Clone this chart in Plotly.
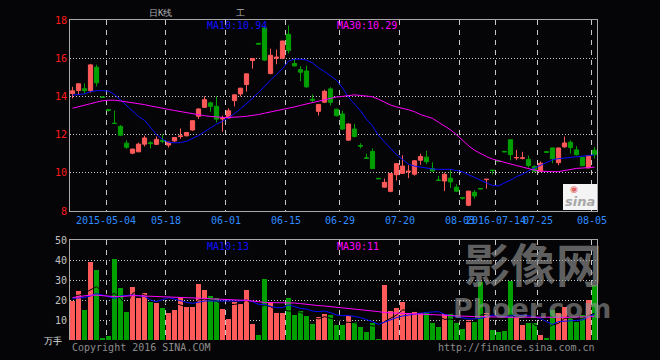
import plotly.graph_objects as go

# ---------------- data ----------------
dates = ["2015-04-23","2015-04-24","2015-04-27","2015-04-28","2015-04-29","2015-04-30",
 "2015-05-04","2015-05-05","2015-05-06","2015-05-07","2015-05-08","2015-05-11","2015-05-12",
 "2015-05-13","2015-05-14","2015-05-15","2015-05-18","2015-05-19","2015-05-20","2015-05-21",
 "2015-05-22","2015-05-25","2015-05-26","2015-05-27","2015-05-28","2015-05-29","2015-06-01",
 "2015-06-02","2015-06-03","2015-06-04","2015-06-05","2015-06-08","2015-06-09","2015-06-10",
 "2015-06-11","2015-06-12","2015-06-15","2015-06-16","2015-06-17","2015-06-18","2015-06-19",
 "2015-06-23","2015-06-24","2015-06-25","2015-06-26","2015-06-29","2015-06-30","2015-07-01",
 "2015-07-02","2015-07-03","2015-07-06","2015-07-07","2015-07-08","2015-07-09","2015-07-10",
 "2015-07-20","2015-07-21","2015-07-22","2015-07-23","2015-07-24","2015-07-27","2015-07-28",
 "2015-07-29","2015-07-30","2015-07-31","2015-08-03","2015-08-04","2015-08-05","2015-08-06",
 "2015-08-07","2015-08-10","2016-07-14","2016-07-15","2016-07-18","2016-07-19","2016-07-20",
 "2016-07-21","2016-07-22","2016-07-25","2016-07-26","2016-07-27","2016-07-28","2016-07-29",
 "2016-08-01","2016-08-02","2016-08-03","2016-08-04","2016-08-05"]

opens = [14.15, 14.31, 14.40, 14.30, 15.53, 13.97, 13.30, 12.60, 12.43, 11.55,
 11.03, 11.10, 11.50, 11.57, 11.49, 11.70, 11.45, 11.67, 11.90, 11.94,
 12.24, 12.96, 13.43, 13.66, 13.48, 12.82, 12.87, 13.78, 14.13, 14.62,
 15.88, 16.78, 17.58, 15.20, 16.00, 16.00, 17.25, 15.72, 15.40, 15.33,
 13.85, 13.22, 13.70, 14.39, 13.33, 13.08, 11.71, 12.29, 11.43, 10.78,
 11.12, 9.71, 9.25, 9.03, 9.90, 9.97, 10.05, 9.93, 10.66, 10.82,
 10.22, 9.62, 9.57, 9.72, 9.25, 8.70, 8.30, 8.98, 9.18, 9.64,
 10.14, 10.62, 11.12, 11.73, 10.78, 10.76, 10.70, 10.33, 10.08, 11.10,
 11.30, 10.53, 11.36, 11.60, 11.20, 10.80, 10.26, 11.18]

closes = [14.29, 14.66, 14.30, 15.65, 14.71, 13.95, 13.28, 12.58, 11.97, 11.34,
 11.24, 11.50, 11.82, 11.53, 11.75, 11.65, 11.60, 11.85, 11.93, 12.11,
 12.73, 13.34, 13.83, 13.48, 12.81, 12.86, 13.25, 14.08, 14.43, 15.18,
 15.98, 16.74, 15.90, 16.15, 16.05, 16.90, 16.40, 15.60, 15.27, 14.50,
 13.80, 13.58, 14.27, 13.69, 12.99, 12.29, 12.55, 11.90, 11.40, 10.76,
 10.22, 9.69, 9.50, 9.96, 10.48, 10.35, 10.08, 10.63, 10.85, 10.58,
 10.10, 9.60, 9.92, 9.52, 9.04, 8.68, 9.04, 8.79, 9.16, 9.66,
 10.12, 10.60, 11.10, 10.95, 10.80, 10.78, 10.38, 10.08, 10.50, 11.08,
 10.74, 11.30, 11.56, 11.32, 10.95, 10.37, 10.90, 10.95]

highs = [14.50, 14.68, 14.68, 15.70, 15.66, 13.98, 13.30, 13.25, 12.50, 11.70,
 11.26, 11.58, 11.94, 11.66, 11.90, 12.00, 11.63, 11.86, 12.32, 12.14,
 12.75, 13.38, 14.00, 13.73, 14.00, 12.99, 13.38, 14.10, 14.45, 15.20,
 16.00, 16.78, 17.60, 16.50, 16.45, 16.92, 17.72, 16.00, 15.58, 15.60,
 14.10, 13.60, 14.35, 14.48, 13.35, 13.25, 12.60, 12.55, 11.55, 11.00,
 11.28, 9.72, 9.70, 9.98, 10.50, 10.92, 10.40, 10.65, 11.00, 11.15,
 10.55, 9.83, 10.00, 10.18, 9.40, 8.70, 9.05, 9.10, 9.19, 9.66,
 10.14, 10.63, 11.13, 11.75, 11.20, 11.10, 10.90, 10.40, 10.60, 11.11,
 11.32, 11.32, 11.90, 11.70, 11.40, 10.82, 10.92, 11.35]

lows = [13.90, 14.10, 14.15, 14.20, 14.52, 13.93, 13.20, 12.58, 11.92, 11.25,
 10.97, 11.08, 11.38, 11.28, 11.45, 11.55, 11.32, 11.60, 11.78, 11.90,
 12.20, 12.82, 13.40, 13.20, 12.64, 12.15, 12.85, 13.48, 14.00, 14.25,
 15.45, 16.72, 15.85, 15.15, 15.68, 15.95, 16.25, 15.55, 14.80, 14.45,
 13.70, 13.00, 13.65, 13.52, 12.95, 12.25, 11.68, 11.85, 11.27, 10.74,
 10.20, 9.68, 9.22, 8.98, 9.60, 9.95, 9.72, 9.85, 10.42, 10.45,
 10.05, 9.58, 9.05, 9.20, 9.00, 8.60, 8.25, 8.65, 9.15, 9.17,
 9.92, 10.58, 11.08, 10.65, 10.66, 10.70, 10.28, 10.02, 10.05, 11.06,
 10.50, 10.40, 11.30, 11.00, 10.90, 10.35, 10.24, 10.75]

ma10 = [14.07, 14.10, 14.13, 14.25, 14.30, 14.30, 14.28, 14.10, 13.80, 13.50,
 13.25, 12.95, 12.75, 12.35, 12.00, 11.75, 11.60, 11.57, 11.58, 11.65,
 11.78, 11.95, 12.15, 12.35, 12.55, 12.70, 12.90, 13.10, 13.35, 13.60,
 13.90, 14.20, 14.55, 14.85, 15.15, 15.45, 15.85, 15.95, 15.95, 15.90,
 15.75, 15.50, 15.30, 15.05, 14.85, 14.45, 13.95, 13.60, 13.25, 12.80,
 12.45, 11.95, 11.60, 11.28, 10.95, 10.70, 10.45, 10.35, 10.30, 10.22,
 10.20, 10.18, 10.18, 10.18, 10.12, 10.05, 9.90, 9.75, 9.62, 9.45,
 9.33, 9.32, 9.45, 9.62, 9.80, 9.92, 10.10, 10.25, 10.41, 10.55,
 10.68, 10.74, 10.78, 10.80, 10.84, 10.87, 10.90, 10.94]

ma30 = [13.38, 13.45, 13.52, 13.62, 13.70, 13.77, 13.80, 13.80, 13.76, 13.72,
 13.67, 13.62, 13.57, 13.50, 13.43, 13.38, 13.32, 13.26, 13.20, 13.15,
 13.10, 13.03, 12.99, 12.95, 12.92, 12.90, 12.90, 12.90, 12.93, 12.96,
 12.99, 13.05, 13.12, 13.18, 13.24, 13.30, 13.38, 13.45, 13.53, 13.60,
 13.70, 13.77, 13.85, 13.92, 13.97, 14.00, 14.03, 14.08, 14.05, 14.02,
 13.98, 13.85, 13.70, 13.55, 13.45, 13.38, 13.30, 13.20, 13.05, 12.95,
 12.85, 12.65, 12.45, 12.25, 12.00, 11.70, 11.42, 11.18, 11.00, 10.85,
 10.72, 10.62, 10.55, 10.46, 10.38, 10.30, 10.20, 10.14, 10.09, 10.06,
 10.06, 10.06, 10.12, 10.20, 10.23, 10.25, 10.27, 10.29]

volume = [19.5, 24.5, 15, 39, 35, 1, 2, 40.5, 26, 14,
 26.5, 21, 23.5, 19, 18.5, 16, 13.5, 15, 21.5, 16.5,
 16.5, 28, 25, 21.8, 21, 15.5, 10.5, 19, 18, 25,
 8, 2.5, 30.5, 19, 13.5, 13.5, 21, 12.5, 14.5, 12,
 8, 11.5, 13, 12.5, 7.5, 7.5, 12, 9, 6.7, 4.2,
 8.3, 0.5, 27.5, 14.5, 16.2, 19.2, 13.3, 14.2, 13.3, 13.8,
 8.7, 6.7, 12.8, 12.8, 8.7, 5.5, 10, 9.2, 29, 13.3,
 5, 3.8, 4.5, 29.5, 11.2, 7.5, 8.3, 8.3, 2.5, 0.8,
 15, 13.3, 16.7, 10.8, 9.2, 12.5, 20, 27.5]

vma5 = [22.5, 22.3, 23.5, 25.0, 26.7, 24.2, 22.2, 23.3, 20.8, 17.5,
 23.3, 24.2, 22.5, 21.7, 20.0, 19.2, 17.8, 18.3, 17.5, 16.7,
 17.5, 20.0, 20.5, 20.0, 19.5, 17.5, 17.5, 17.8, 18.3, 20.0,
 17.5, 15.8, 17.5, 16.7, 15.0, 15.0, 14.5, 14.5, 13.8, 12.5,
 11.7, 10.5, 11.7, 10.8, 10.0, 9.2, 8.8, 8.7, 7.8, 7.5,
 7.0, 6.7, 9.2, 10.8, 12.5, 15.0, 15.0, 15.8, 15.0, 13.8,
 13.3, 11.7, 10.3, 10.5, 10.0, 9.2, 9.2, 9.2, 12.5, 12.8,
 11.7, 11.7, 10.8, 12.5, 12.0, 11.7, 11.2, 7.5, 6.7, 5.8,
 7.5, 8.3, 10.8, 11.2, 10.0, 10.8, 12.2, 13.3]

vma10 = [20.8, 21.0, 21.2, 22.0, 23.2, 22.5, 21.7, 20.8, 22.0, 22.2,
 22.5, 22.2, 21.8, 20.0, 19.2, 20.2, 21.2, 20.5, 19.5, 18.8,
 18.3, 18.8, 19.5, 19.5, 19.5, 19.2, 19.2, 19.5, 19.5, 20.0,
 19.2, 17.8, 17.8, 16.8, 16.2, 16.2, 17.5, 16.7, 15.8, 15.5,
 14.5, 14.2, 14.5, 13.7, 12.5, 12.2, 12.2, 11.8, 11.2, 10.2,
 9.2, 7.8, 9.0, 10.2, 11.2, 12.0, 12.5, 12.8, 13.3, 13.8,
 14.0, 14.2, 12.8, 12.2, 11.7, 11.0, 10.5, 10.6, 10.8, 11.5,
 12.5, 12.0, 11.7, 12.0, 12.5, 12.4, 12.2, 11.5, 10.8, 9.2,
 7.8, 9.2, 9.3, 9.5, 9.8, 10.0, 11.7, 13.0]

vma30 = [21.2, 21.6, 22.0, 22.5, 22.4, 22.2, 21.7, 21.7, 21.7, 22.0,
 22.2, 22.1, 22.0, 21.9, 21.7, 21.7, 21.7, 21.5, 21.3, 21.2,
 21.2, 21.0, 20.8, 20.6, 20.5, 20.4, 20.3, 20.1, 20.0, 19.8,
 19.5, 19.1, 18.8, 18.7, 18.7, 18.7, 18.8, 18.5, 18.2, 17.8,
 17.5, 17.2, 17.0, 16.7, 16.3, 16.1, 16.0, 15.7, 15.4, 15.1,
 14.8, 14.2, 13.7, 13.6, 13.4, 13.3, 13.2, 13.1, 13.0, 12.9,
 12.8, 12.6, 12.4, 12.2, 12.0, 11.8, 11.7, 11.7, 11.7, 11.6,
 11.4, 11.3, 11.2, 11.2, 11.3, 11.4, 11.5, 11.5, 11.4, 11.4,
 11.3, 11.3, 11.3, 11.4, 11.5, 11.6, 11.6, 11.7]

tick_dates = ["2015-05-04","2015-05-18","2015-06-01","2015-06-15","2015-06-29",
              "2015-07-20","2015-08-03","2016-07-14","2016-07-25","2016-08-05"]
tick_labels = ["2015-05-04","05-18","06-01","06-15","06-29","07-20","08-03",
               "2016-07-14","07-25","08-05"]
price_ticks = [8, 10, 12, 14, 16, 18]
volume_ticks = [10, 20, 30, 40, 50]

# ---------------- styling ----------------
W, H = 660, 360
BG = "#050507"
RED = "#ff5a5a"
GREEN = "#00a000"
MONO = "DejaVu Sans Mono"
X0, X1 = 70, 597

def px(x):
    return x / W

def py(y):
    return 1 - y / H

pos = list(range(len(dates)))
tickvals = [dates.index(d) - 0.42 for d in tick_dates]
vol_colors = [RED if c >= o else GREEN for o, c in zip(opens, closes)]

fig = go.Figure()
fig.add_trace(go.Candlestick(
    x=pos, open=opens, high=highs, low=lows, close=closes, text=dates,
    increasing=dict(line=dict(color=RED, width=1), fillcolor=RED),
    decreasing=dict(line=dict(color=GREEN, width=1), fillcolor=GREEN),
    whiskerwidth=0, xaxis="x", yaxis="y", showlegend=False))
fig.add_trace(go.Scatter(x=pos, y=ma10, mode="lines", line=dict(color="#0a0aff", width=1),
                         xaxis="x", yaxis="y", showlegend=False))
fig.add_trace(go.Scatter(x=pos, y=ma30, mode="lines", line=dict(color="#ff00ff", width=1),
                         xaxis="x", yaxis="y", showlegend=False))

fig.add_trace(go.Bar(x=pos, y=volume, marker=dict(color=vol_colors, line=dict(width=0)),
                     width=0.83, xaxis="x2", yaxis="y2", showlegend=False))
fig.add_trace(go.Scatter(x=pos, y=vma5, mode="lines", line=dict(color="#000000", width=1),
                         xaxis="x2", yaxis="y2", showlegend=False))
fig.add_trace(go.Scatter(x=pos, y=vma10, mode="lines", line=dict(color="#0a0aff", width=1),
                         xaxis="x2", yaxis="y2", showlegend=False))
fig.add_trace(go.Scatter(x=pos, y=vma30, mode="lines", line=dict(color="#ff00ff", width=1),
                         xaxis="x2", yaxis="y2", showlegend=False))

dom_x = [px(X0), px(X1)]
xcommon = dict(range=[-0.42, 87.42], tickmode="array", tickvals=tickvals, tickangle=0,
               showgrid=True, gridcolor="#c8c8c8", griddash="5px,5px", gridwidth=1,
               zeroline=False, ticks="", linecolor="#a8a8a8", linewidth=1,
               fixedrange=True)
fig.update_layout(
    width=W, height=H, margin=dict(l=0, r=0, t=0, b=0, autoexpand=False),
    paper_bgcolor=BG, plot_bgcolor=BG, boxgap=0.3, boxgroupgap=0,
    font=dict(family=MONO, size=10, color="#c0c0c0"),
    xaxis=dict(domain=dom_x, anchor="y", ticktext=tick_labels, showline=True, mirror=True,
               tickfont=dict(family=MONO, size=10, color="#2e8cff"),
               rangeslider=dict(visible=False), **xcommon),
    yaxis=dict(domain=[py(211), py(20)], anchor="x", range=[8, 18], tickvals=price_ticks,
               showgrid=True, gridcolor="#c8c8c8", griddash="1px,2px", zeroline=False,
               showline=True, mirror=True, linecolor="#a8a8a8", ticks="",
               tickfont=dict(family=MONO, size=10, color="#ff1a1a")),
    xaxis2=dict(domain=dom_x, anchor="y2", matches="x", showticklabels=False,
                showline=True, side="top", ticktext=tick_labels, **xcommon),
    yaxis2=dict(domain=[py(340), py(240)], anchor="x2", range=[0, 50], tickvals=volume_ticks,
                showgrid=True, gridcolor="#c8c8c8", griddash="1px,2px", zeroline=False,
                showline=True, mirror=True, linecolor="#a8a8a8", ticks="",
                tickfont=dict(family=MONO, size=10, color="#c0c0c0")),
    bargap=0,
)

ann = [
    dict(x=px(205), y=py(26), text="MA10:10.94", color="#1010ff", size=10, xa="left"),
    dict(x=px(335), y=py(26), text="MA30:10.29", color="#ff00ff", size=10, xa="left"),
    dict(x=px(205), y=py(246), text="MA10:13", color="#1010ff", size=10, xa="left"),
    dict(x=px(335), y=py(246), text="MA30:11", color="#ff00ff", size=10, xa="left"),
    dict(x=px(70), y=py(347), text="Copyright 2016 SINA.COM", color="#8c8c8c", size=10, xa="left"),
    dict(x=px(597), y=py(347), text="http://finance.sina.com.cn", color="#8c8c8c", size=10, xa="right"),
    dict(x=px(64), y=py(341), text="万手", color="#e0e0e0", size=9, xa="right"),
    dict(x=px(160), y=py(13), text="日K线", color="#b0b0b0", size=9, xa="center"),
    dict(x=px(240), y=py(13), text="工", color="#b0b0b0", size=9, xa="center"),
]
for a in ann:
    fig.add_annotation(x=a["x"], y=a["y"], xref="paper", yref="paper", text=a["text"],
                       showarrow=False, xanchor=a["xa"], yanchor="middle",
                       font=dict(family=MONO, size=a["size"], color=a["color"]))

# sina logo box
fig.add_shape(type="rect", xref="paper", yref="paper", x0=px(563), x1=px(597),
              y0=py(210), y1=py(184), fillcolor="#f4f4f4", line=dict(width=0))
fig.add_annotation(x=px(580), y=py(201), xref="paper", yref="paper", text="<b><i>sina</i></b>",
                   showarrow=False, xanchor="center", yanchor="middle",
                   font=dict(family="DejaVu Sans", size=13, color="#a8a8a8"))
fig.add_annotation(x=px(574), y=py(189), xref="paper", yref="paper", text="◉",
                   showarrow=False, xanchor="center", yanchor="middle",
                   font=dict(family="DejaVu Sans", size=9, color="#e06060"))

# watermark
fig.add_annotation(x=px(533), y=py(262), xref="paper", yref="paper", text="<b>影像网</b>",
                   showarrow=False, xanchor="center", yanchor="middle",
                   font=dict(family="Noto Sans CJK SC", size=46,
                             color="rgba(150,150,150,0.65)"))
fig.add_annotation(x=px(532), y=py(308), xref="paper", yref="paper", text="<b>Phoer.com</b>",
                   showarrow=False, xanchor="center", yanchor="middle",
                   font=dict(family="DejaVu Sans", size=27,
                             color="rgba(150,150,150,0.6)"))

fig.write_html("out.html", config={"displayModeBar": False},
               post_script="document.body.style.margin='0';"
                           "document.body.style.background='#050507';"
                           "document.body.style.overflow='hidden';")
